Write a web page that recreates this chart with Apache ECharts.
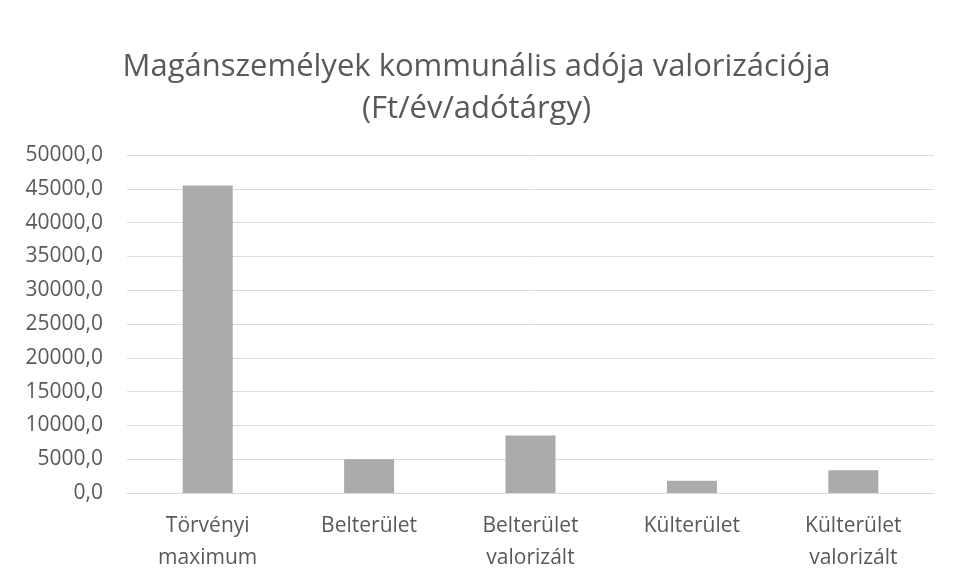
<!DOCTYPE html>
<html>
<head>
<meta charset="utf-8">
<script src="https://cdn.jsdelivr.net/npm/echarts@6/dist/echarts.min.js"></script>
<style>
  html, body { margin: 0; padding: 0; background: #fff; }
  #chart { width: 953px; height: 577px; }
</style>
</head>
<body>
<div id="chart"></div>
<script>
  // adatok
  const categories = ['Törvényi\nmaximum', 'Belterület', 'Belterület\nvalorizált', 'Külterület', 'Külterület\nvalorizált']
  const values = [45500, 5000, 8500, 1800, 3350]
  const titleLines = ['Magánszemélyek kommunális adója valorizációja', '(Ft/év/adótárgy)']

  const chart = echarts.init(document.getElementById('chart'))
  chart.setOption({
    animation: false,
    textStyle: { fontFamily: 'Open Sans' },
    title: {
      text: titleLines.join('\n'),
      left: 'center',
      top: 41,
      textStyle: {
        fontFamily: 'Open Sans',
        fontSize: 31,
        fontWeight: 'normal',
        color: '#595959',
        lineHeight: 42,
      },
    },
    grid: {
      left: 127,
      right: 19,
      top: 155,
      bottom: 84,
    },
    xAxis: {
      type: 'category',
      data: categories,
      axisTick: { show: false },
      axisLine: { lineStyle: { color: '#d9d9d9' } },
      axisLabel: {
        color: '#595959',
        fontSize: 21,
        lineHeight: 32,
        margin: 17,
        interval: 0,
      },
    },
    yAxis: {
      type: 'value',
      min: 0,
      max: 50000,
      interval: 5000,
      axisLine: { show: false },
      axisTick: { show: false },
      splitLine: { lineStyle: { color: '#dcdcdc', width: 1 } },
      axisLabel: {
        color: '#595959',
        fontSize: 21,
        margin: 24,
        formatter: (v) => v.toFixed(1).replace('.', ','),
      },
    },
    series: [
      {
        type: 'bar',
        data: values,
        barWidth: 50,
        itemStyle: { color: '#ababab' },
      },
    ],
  })
</script>
</body>
</html>
